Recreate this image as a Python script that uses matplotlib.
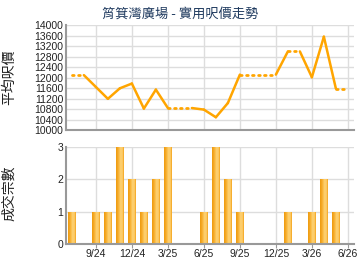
import matplotlib
matplotlib.use("Agg")
import matplotlib.pyplot as plt

plt.rcParams["font.family"] = ["Liberation Sans", "Noto Sans CJK TC", "DejaVu Sans"]

# monthly data, 7/24 .. 6/26
months = ["7/24", "8/24", "9/24", "10/24", "11/24", "12/24", "1/25", "2/25",
          "3/25", "4/25", "5/25", "6/25", "7/25", "8/25", "9/25", "10/25",
          "11/25", "12/25", "1/26", "2/26", "3/26", "4/26", "5/26", "6/26"]
avg_price = [12100, 12100, 11650, 11200, 11600, 11780, 10830, 11550,
             10850, 10850, 10850, 10790, 10500, 11040, 12120, 12120,
             12120, 12120, 13000, 13000, 12020, 13560, 11590, 11590]
deals = [1, 0, 1, 1, 3, 2, 1, 2, 3, 0, 0, 1, 3, 2, 1, 0, 0, 0, 1, 0, 1, 2, 1, 0]
tick_labels = ["9/24", "12/24", "3/25", "6/25", "9/25", "12/25", "3/26", "6/26"]
tick_idx = [months.index(t) for t in tick_labels]

title = "筲箕灣廣場 - 實用呎價走勢"
cjk = ["Noto Sans CJK TC", "DejaVu Sans"]
line_color = "#FFA500"
grid_color = "#DDDDDD"
spine_color = "#999999"
text_color = "#222222"
# horizontal shading of each bar, left to right
bar_shades = ["#EF9E14", "#F3A622", "#F7B236", "#FAC152", "#FCCD6C", "#FBC760", "#F6AE30"]

fig = plt.figure(figsize=(3.6, 2.7), dpi=100)
ax1 = fig.add_axes([0.183, 0.517, 0.8, 0.39])
ax2 = fig.add_axes([0.183, 0.097, 0.8, 0.358])

x = list(range(len(months)))

# price line: dotted where the month has no deals
for i in range(1, len(x)):
    dotted = deals[i] == 0
    ax1.plot(x[i - 1:i + 1], avg_price[i - 1:i + 1], color=line_color,
             lw=1.8 if not dotted else 2.0,
             linestyle=(0, (0.6, 1.6)) if dotted else "-",
             dash_capstyle="round", solid_capstyle="round", zorder=3)

ax1.set_ylim(10000, 14000)
ax1.set_yticks(range(10000, 14001, 400))
ax1.set_ylabel("平均呎價", family=cjk, fontsize=10, color=text_color)
ax1.yaxis.set_label_coords(0.045, 0.715, transform=fig.transFigure)

# deals bars drawn as shaded strips
bar_w = 0.72
strip = bar_w / len(bar_shades)
for k, c in enumerate(bar_shades):
    off = -bar_w / 2 + strip * (k + 0.5)
    ax2.bar([i + off for i in x], deals, width=strip * 1.02, color=c, lw=0, zorder=3)
ax2.set_ylim(0, 3)
ax2.set_yticks([0, 1, 2, 3])
ax2.set_ylabel("成交宗數", family=cjk, fontsize=10, color=text_color)
ax2.yaxis.set_label_coords(0.045, 0.283, transform=fig.transFigure)

for ax in (ax1, ax2):
    ax.set_xlim(-0.5, len(months) - 0.5)
    ax.set_xticks(tick_idx)
    ax.grid(True, color=grid_color, lw=1, zorder=0)
    ax.set_axisbelow(True)
    for s in ("top", "right"):
        ax.spines[s].set_visible(False)
    for s in ("left", "bottom"):
        ax.spines[s].set_color(spine_color)
        ax.spines[s].set_linewidth(1.5)
        ax.spines[s].set_zorder(5)
    ax.tick_params(axis="y", length=0, labelsize=7.5, colors=text_color, pad=2)

ax1.tick_params(axis="x", length=0, labelbottom=False)
ax2.set_xticklabels(tick_labels)
ax2.tick_params(axis="x", length=3, color=spine_color, labelsize=7.5,
                labelcolor=text_color, pad=1)

fig.text(0.5, 0.948, title, family=cjk, fontsize=9.5, color="#1F3A5F",
         ha="center", va="center")

fig.savefig("out.png", dpi=100)
